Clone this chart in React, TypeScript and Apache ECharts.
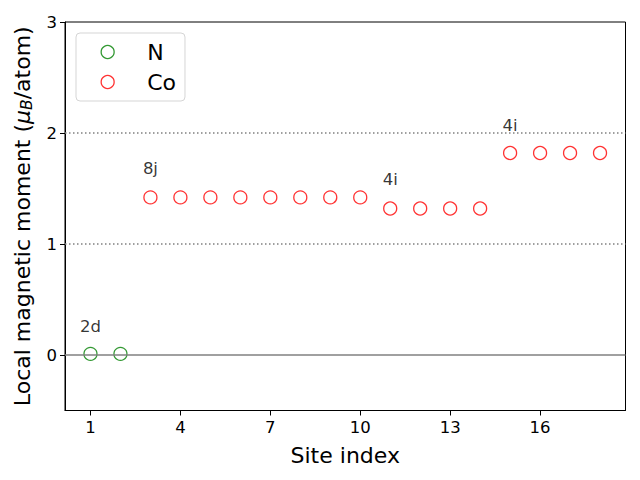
import React, { useEffect, useRef } from "react";
import * as echarts from "echarts";

const nSites = [1, 2];
const nValues = [0.01, 0.01];
const coSites = [3, 4, 5, 6, 7, 8, 9, 10, 11, 12, 13, 14, 15, 16, 17, 18];
const coValues = [1.42, 1.42, 1.42, 1.42, 1.42, 1.42, 1.42, 1.42, 1.32, 1.32, 1.32, 1.32, 1.82, 1.82, 1.82, 1.82];
const annotSites = [1, 3, 11, 15];
const annotValues = [0.26, 1.68, 1.58, 2.07];
const annotTexts = ["2d", "8j", "4i", "4i"];
const xTicks = [1, 4, 7, 10, 13, 16];
const yTicks = [0, 1, 2, 3];
const refLines = [0, 1, 2];

const FONT = "DejaVu Sans";

export default function App() {
  const ref = useRef<HTMLDivElement>(null);
  useEffect(() => {
    if (!ref.current) return;
    const chart = echarts.init(ref.current, undefined, { renderer: "svg" });
    const hollow = (c: string) => ({ color: "transparent", borderColor: c, borderWidth: 1.3 });
    chart.setOption({
      animation: false,
      textStyle: { fontFamily: FONT },
      grid: {
        left: 65,
        right: 14.5,
        top: 22,
        bottom: 69.5,
        show: true,
        borderColor: "#000",
        borderWidth: 1,
        backgroundColor: "transparent",
      },
      legend: {
        left: 76,
        top: 33,
        orient: "vertical",
        padding: [8, 9, 8, 24.5],
        itemGap: 8,
        itemWidth: 13,
        itemHeight: 13,
        borderColor: "#d5d5d5",
        borderWidth: 1,
        borderRadius: 4,
        backgroundColor: "rgba(255,255,255,0.8)",
        formatter: (name: string) => "{t|" + name + "}",
        textStyle: {
          fontFamily: FONT,
          fontSize: 22,
          color: "#000",
          rich: { t: { fontFamily: FONT, fontSize: 22, lineHeight: 23, color: "#000", padding: [0, 0, 0, 28] } },
        },
        data: [
          { name: "N", icon: "circle", itemStyle: hollow("#008000") },
          { name: "Co", icon: "circle", itemStyle: hollow("#ff0000") },
        ],
      },
      xAxis: {
        type: "value",
        min: 0.15,
        max: 18.85,
        name: "Site index",
        nameLocation: "middle",
        nameGap: 34,
        nameTextStyle: { fontFamily: FONT, fontSize: 22, color: "#000" },
        axisLine: { show: true, onZero: false, lineStyle: { color: "#000", width: 1 } },
        axisTick: { show: true, length: 5, customValues: xTicks, lineStyle: { color: "#000" } },
        axisLabel: { customValues: xTicks, fontFamily: FONT, fontSize: 16.5, color: "#000", margin: 8 },
        splitLine: { show: false },
      },
      yAxis: {
        type: "value",
        min: -0.5,
        max: 3,
        name: "Local magnetic moment ({i|μ}{sub|B}/atom)",
        nameLocation: "middle",
        nameGap: 30,
        nameRotate: 90,
        nameTextStyle: {
          fontFamily: FONT,
          fontSize: 22,
          color: "#000",
          rich: {
            i: { fontFamily: FONT, fontSize: 22, fontStyle: "italic", color: "#000" },
            sub: { fontFamily: FONT, fontSize: 15.5, fontStyle: "italic", color: "#000", verticalAlign: "bottom", padding: [9, 0, 0, 0] },
          },
        },
        axisLine: { show: true, onZero: false, lineStyle: { color: "#000", width: 1 } },
        axisTick: { show: true, length: 5, customValues: yTicks, lineStyle: { color: "#000" } },
        axisLabel: { customValues: yTicks, fontFamily: FONT, fontSize: 16.5, color: "#000", margin: 8 },
        splitLine: { show: false },
      },
      series: [
        {
          name: "lines",
          type: "scatter",
          data: [],
          silent: true,
          markLine: {
            silent: true,
            symbol: "none",
            label: { show: false },
            lineStyle: { color: "#808080", width: 1.5 },
            data: refLines.map((v, i) => ({
              yAxis: v,
              lineStyle: i === 0
                ? { color: "#808080", width: 1.5, type: "solid" }
                : { color: "#808080", width: 1.5, type: [1.5, 2.5] },
            })),
          },
        },
        {
          name: "N",
          type: "scatter",
          symbol: "circle",
          symbolSize: 13,
          itemStyle: hollow("#008000"),
          data: nSites.map((s, i) => [s, nValues[i]]),
        },
        {
          name: "Co",
          type: "scatter",
          symbol: "circle",
          symbolSize: 13,
          itemStyle: hollow("#ff0000"),
          data: coSites.map((s, i) => [s, coValues[i]]),
        },
        {
          name: "annot",
          type: "scatter",
          symbolSize: 1,
          itemStyle: { color: "transparent" },
          silent: true,
          label: {
            show: true,
            position: "inside",
            formatter: (p: any) => annotTexts[p.dataIndex],
            fontFamily: FONT,
            fontSize: 16.5,
            color: "#000",
            textBorderWidth: 0,
          },
          data: annotSites.map((s, i) => [s, annotValues[i]]),
        },
      ],
    });
    return () => chart.dispose();
  }, []);
  return <div ref={ref} style={{ width: 640, height: 480, position: "absolute", left: 0, top: 0 }} />;
}
